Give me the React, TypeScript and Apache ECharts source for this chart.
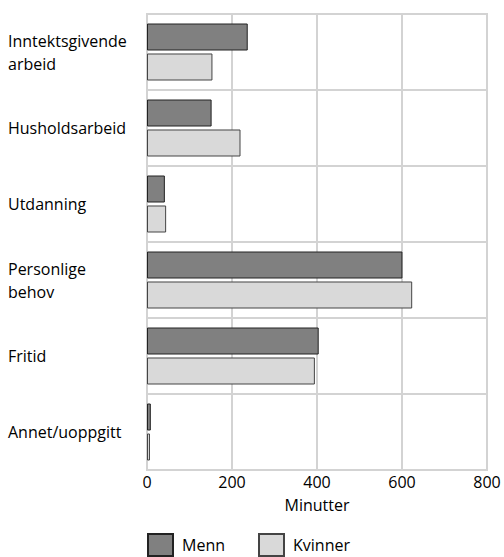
import React, { useEffect, useRef } from "react";
import * as echarts from "echarts";

const categories = [
  "Inntektsgivende\narbeid",
  "Husholdsarbeid",
  "Utdanning",
  "Personlige\nbehov",
  "Fritid",
  "Annet/uoppgitt",
];
const menn = [237, 152, 42, 601, 404, 9];
const kvinner = [154, 220, 45, 624, 395, 7];
const xTicks = [0, 200, 400, 600, 800];

const FONT = "'Open Sans', sans-serif";
const FS = 16;

export default function App() {
  const ref = useRef<HTMLDivElement>(null);
  useEffect(() => {
    if (!ref.current) return;
    const chart = echarts.init(ref.current, undefined, { renderer: "svg" });
    const legendBase = {
      top: 528,
      itemWidth: 25,
      itemHeight: 22,
      icon: "rect",
      textStyle: { fontFamily: FONT, fontSize: FS, color: "#000", padding: [0, 0, 0, 4] },
    };
    chart.setOption({
      animation: false,
      textStyle: { fontFamily: FONT },
      grid: {
        left: 147,
        top: 14,
        width: 340,
        height: 456,
        show: true,
        borderColor: "#d3d3d3",
        borderWidth: 2,
      },
      legend: [
        { ...legendBase, left: 142, data: ["Menn"] },
        { ...legendBase, left: 253, data: ["Kvinner"] },
      ],
      xAxis: {
        type: "value",
        min: xTicks[0],
        max: xTicks[xTicks.length - 1],
        interval: 200,
        name: "Minutter",
        nameLocation: "middle",
        nameGap: 27,
        nameTextStyle: { fontFamily: FONT, fontSize: FS, color: "#000" },
        axisLine: { show: true, lineStyle: { color: "#d3d3d3", width: 2 } },
        axisTick: { show: false },
        axisLabel: { fontFamily: FONT, fontSize: FS, color: "#000", margin: 4 },
        splitLine: { show: true, lineStyle: { color: "#d3d3d3", width: 2 } },
      },
      yAxis: {
        type: "category",
        data: categories,
        inverse: true,
        axisLine: { show: true, lineStyle: { color: "#d3d3d3", width: 2 } },
        axisTick: { show: false },
        axisLabel: {
          fontFamily: FONT,
          fontSize: FS,
          color: "#000",
          align: "left",
          margin: 139,
          lineHeight: 23,
        },
        splitLine: { show: true, lineStyle: { color: "#d3d3d3", width: 2 } },
      },
      series: [
        {
          name: "Menn",
          type: "bar",
          data: menn,
          barCategoryGap: "25%",
          barGap: "11%",
          itemStyle: { color: "#808080", borderColor: "#222", borderWidth: 1 },
        },
        {
          name: "Kvinner",
          type: "bar",
          data: kvinner,
          itemStyle: { color: "#d9d9d9", borderColor: "#444", borderWidth: 1 },
        },
      ],
    });
    return () => chart.dispose();
  }, []);
  return <div ref={ref} style={{ width: 504, height: 557, position: "absolute", left: 0, top: 0 }} />;
}
